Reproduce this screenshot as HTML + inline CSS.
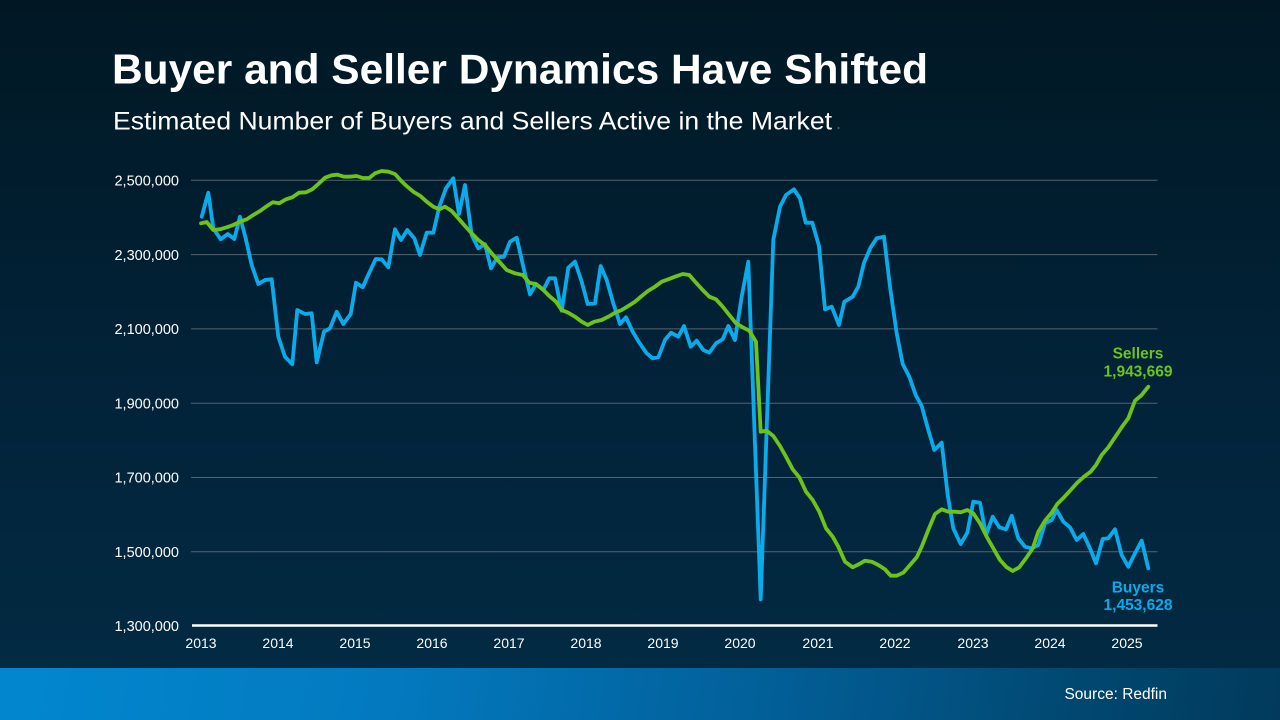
<!DOCTYPE html>
<html>
<head>
<meta charset="utf-8">
<style>
html,body{margin:0;padding:0;}
body{width:1280px;height:720px;overflow:hidden;position:relative;
background:linear-gradient(180deg,#011824 0%,#011d2d 25%,#02233a 55%,#022a42 92%);
font-family:"Liberation Sans",Arial,sans-serif;}
#footer{position:absolute;left:0;top:668px;width:1280px;height:52px;
background:linear-gradient(100deg,#0287cf 0%,#037ac0 30%,#025f98 60%,#01476f 85%,#013a5c 100%);}
svg{position:absolute;left:0;top:0;}
</style>
</head>
<body>
<div id="footer"></div>
<svg width="1280" height="720" viewBox="0 0 1280 720" xmlns="http://www.w3.org/2000/svg">
  <text x="112" y="83.5" font-family="Liberation Sans, Arial, sans-serif" font-weight="bold" font-size="42" fill="#ffffff" textLength="816" lengthAdjust="spacingAndGlyphs">Buyer and Seller Dynamics Have Shifted</text>
  <text x="113" y="129.3" font-family="Liberation Sans, Arial, sans-serif" font-size="25" fill="#ffffff" textLength="719" lengthAdjust="spacingAndGlyphs">Estimated Number of Buyers and Sellers Active in the Market</text>
  <circle cx="838.5" cy="128" r="1" fill="#5b6770"/>

  <g stroke="#56636d" stroke-width="1">
    <line x1="191" y1="180.3" x2="1157.5" y2="180.3"/>
    <line x1="191" y1="254.6" x2="1157.5" y2="254.6"/>
    <line x1="191" y1="328.9" x2="1157.5" y2="328.9"/>
    <line x1="191" y1="403.2" x2="1157.5" y2="403.2"/>
    <line x1="191" y1="477.5" x2="1157.5" y2="477.5"/>
    <line x1="191" y1="551.8" x2="1157.5" y2="551.8"/>
  </g>
  <line x1="192" y1="625.5" x2="1157.5" y2="625.5" stroke="#ffffff" stroke-width="2.5"/>

  <g font-family="Liberation Sans, Arial, sans-serif" font-size="14.5" fill="#ffffff" text-anchor="end">
    <text x="179" y="185.5">2,500,000</text>
    <text x="179" y="259.8">2,300,000</text>
    <text x="179" y="334.1">2,100,000</text>
    <text x="179" y="408.4">1,900,000</text>
    <text x="179" y="482.7">1,700,000</text>
    <text x="179" y="557">1,500,000</text>
    <text x="179" y="631">1,300,000</text>
  </g>
  <g font-family="Liberation Sans, Arial, sans-serif" font-size="14" fill="#ffffff" text-anchor="middle">
    <text x="201" y="648">2013</text>
    <text x="278" y="648">2014</text>
    <text x="355" y="648">2015</text>
    <text x="432" y="648">2016</text>
    <text x="509" y="648">2017</text>
    <text x="586" y="648">2018</text>
    <text x="663" y="648">2019</text>
    <text x="740" y="648">2020</text>
    <text x="818" y="648">2021</text>
    <text x="895" y="648">2022</text>
    <text x="973" y="648">2023</text>
    <text x="1050" y="648">2024</text>
    <text x="1127" y="648">2025</text>
  </g>

  <polyline fill="none" stroke="#0aabeb" stroke-width="3.8" stroke-linejoin="round" stroke-linecap="round" points="
201.7,216.7 208.3,192.7 213.3,228.3 220.7,239.3 227.7,234 234.3,239 240,216.7 245.7,238.3 251.7,265 258.3,284 265,280 271.7,279.3 278.3,336.7 285,356.7 292.3,364.3 297.3,310 305,314 311.7,313.3 316.7,362.3 324,331.7 330,328.3 336.7,311.7 343.3,324 350.7,314 356,282.7 362.7,287.3 369.3,272.7 375.7,259 381.7,259.3 388.3,267.3 395,229.3 401,240 407.3,230 414.3,238.3 420,255 426.7,232.7 433.3,232.7 439.3,206.7 446,188.3 453.3,178.3 459,214 465,185 471.7,235 478.3,248.3 485,244.3 491,268.3 497.3,257.3 504,256.7 510,241.7 516.7,237.7 523.3,266.7 530,294.3 536,284 543.3,290 549.3,278.3 555,278.3 561.7,310.7 568.3,267.7 575,261.7 581.7,281.7 587.7,304 595,303.3 600.7,266 606.7,280 613.3,303.3 620,324 626,317.3 632.7,331.7 639.3,342.7 646.7,353.3 652.7,358.3 658.3,357.3 665,340 671,332.7 678.3,336.7 684,326 690.7,346.7 696.7,340.7 703.3,350 709.3,352.7 716,343.3 722.7,339.3 728.3,326 735,340 741.7,296.7 748.3,261.7 760.7,599.3 773.3,240 780,206.7 786,195 794,189.3 800,198.3 805.7,222.7 812.3,222.7 819,246 825,309.3 831.7,306.7 839,325 844.3,301.7 852.7,296.7 858.3,286.7 864,262.7 870.7,247.3 876.7,238.3 884,236.7 890,286.7 896.7,333.3 902.7,364 909.3,376.7 915.7,395 921.7,406 928.3,430 934.3,450 941.7,442.7 947.7,495 953.3,528.3 960.7,544 967.3,532.7 973.3,501.7 980,502.7 986,535 992.7,516.7 999.3,527.3 1006,529.3 1011.7,515.7 1018.3,538.3 1025,546.7 1031.7,548.3 1038.3,545 1045,523.3 1051.7,520 1056.7,510 1063.3,521.7 1070,527.3 1076.7,540 1083.3,534 1090,548.3 1096,563.3 1102.7,539 1108.3,538.3 1115,529.3 1121.7,555 1128.3,566.7 1135,553.3 1141.7,540.7 1148.3,568.3"/>

  <polyline fill="none" stroke="#6cc31a" stroke-width="3.8" stroke-linejoin="round" stroke-linecap="round" points="
201,223.3 206.7,222 213.3,230 220,229.3 226.7,227.3 233.3,225 240,221.7 246.7,219.3 253.3,215 260,211 266,206.7 272.7,202.3 279.3,203.3 286,199.3 292.3,197.3 299,192.7 306,192.3 312.3,189.3 318.3,184 325,177.7 331.7,175.3 337.3,174.7 344,176.7 350,176.7 356.7,176 362.7,178 369.3,178 375,173.3 381.7,171 388.3,171.7 395,174 401,180.7 407.3,186.7 413.3,191.7 420,195.7 426.7,201.7 433.3,206.7 439.3,209.3 445,206.7 451.7,211 458.3,218.3 465,226 471.7,233.3 478.3,240 485,245 491.7,253.3 498.3,260.7 506.7,270 515,273.3 522.7,275 529.3,282.7 536,284 542.7,289.3 549.3,296 556,301.7 561.7,310 568.3,312.7 575,316.7 581.7,321.7 587.7,325 594.3,321.7 601.7,320 608.3,316.7 615,312.7 621.7,310 628.3,306 635,301.7 641.7,296 648.3,290.7 655,286.7 661.7,281.7 668.3,279.3 675,276.7 682.7,274 689.3,275 696,282.7 702.7,290 709.3,296.7 716,299.3 722.7,306.7 729.3,315 736,323.3 742.7,327.3 749.3,330.7 756,341.7 760.7,431.7 766.7,430.7 773.3,436 780,446 786,456.7 792.7,469.3 799.3,477.3 806,491.7 812.7,500 819.3,511.7 826,528.3 832.7,536.7 838.3,546.7 845,561.7 852.7,567.3 859.3,564 865,560.7 871.7,561.7 878.3,565 885,569.3 890.7,575.7 896.7,575.7 903.3,572.7 910,565 916.7,557.3 921.7,546.7 928.3,530 935,514 941.7,509.3 948.3,511.7 955,511.7 960.7,512.3 967.3,510 973.3,513.3 980,523.3 986.7,536.7 993.3,548.3 1000,560 1006.7,567.3 1012.7,571 1019.3,567.3 1026,558.3 1032.7,548.3 1038.3,531.7 1045,520.7 1051.7,512.7 1057.3,504 1064,497.3 1070.7,490 1077.3,482.7 1084,476.7 1090.7,471.7 1096,465 1101.7,455 1108.3,447.3 1115,437.3 1121.7,427.3 1128.3,418.3 1135,400.7 1141.7,395 1148.3,386.7"/>

  <g font-family="Liberation Sans, Arial, sans-serif" font-weight="bold" font-size="15.5" text-anchor="middle">
    <text x="1138" y="358.5" fill="#6cc31a">Sellers</text>
    <text x="1138" y="376.5" fill="#6cc31a">1,943,669</text>
    <text x="1138" y="592.5" fill="#0aabeb">Buyers</text>
    <text x="1138" y="610" fill="#0aabeb">1,453,628</text>
  </g>

  <text x="1167" y="699" font-family="Liberation Sans, Arial, sans-serif" font-size="15.5" fill="#ffffff" text-anchor="end">Source: Redfin</text>
</svg>
</body>
</html>
